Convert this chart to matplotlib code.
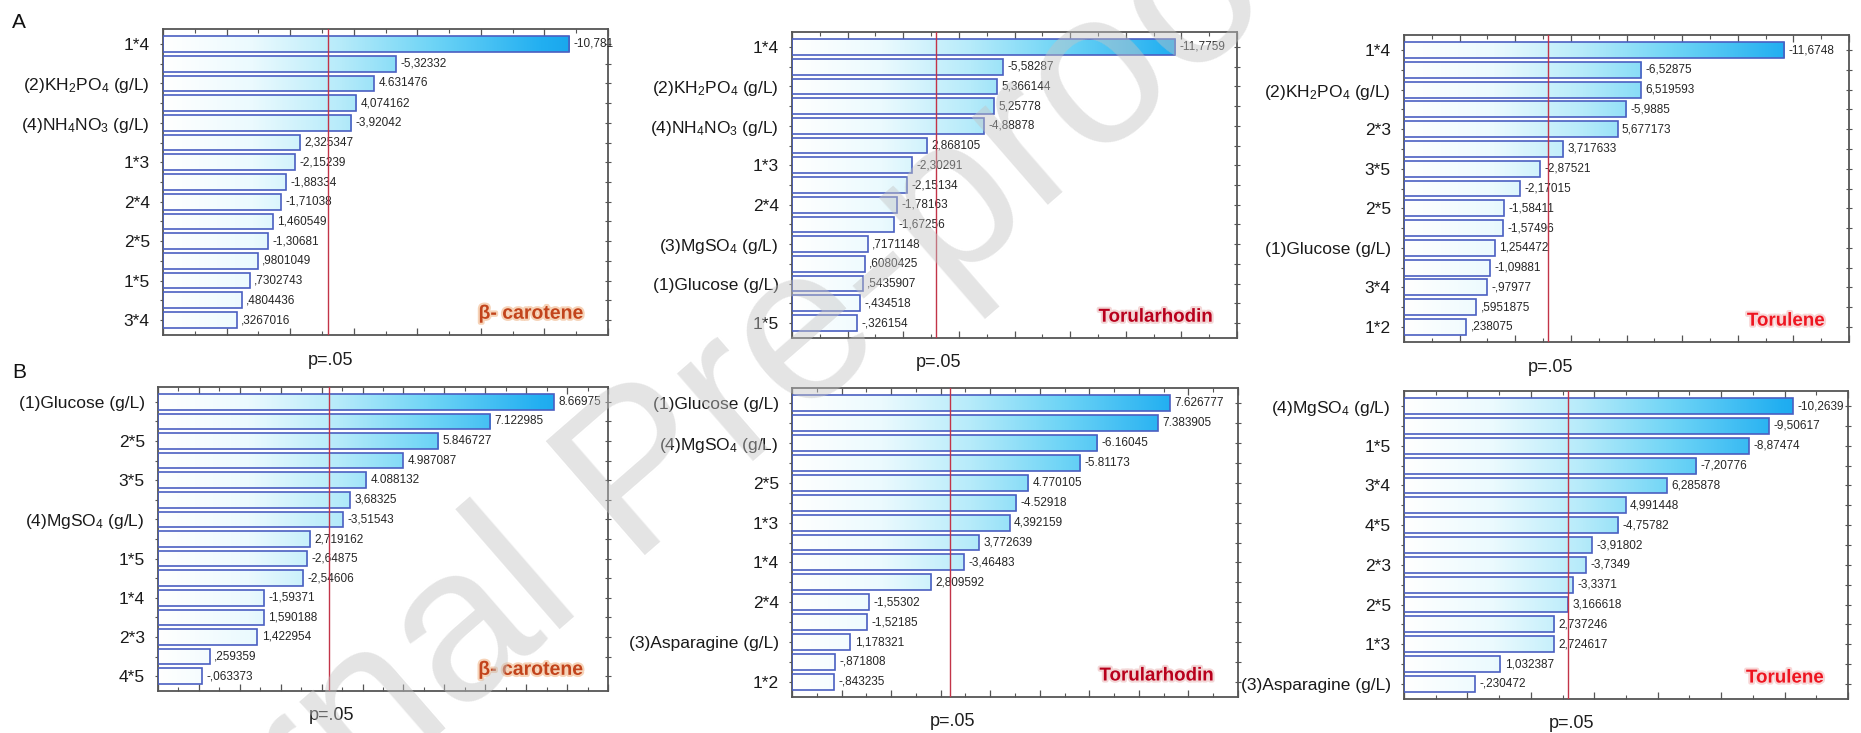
#!/usr/bin/env python3
"""Pareto charts of standardized effects (A: first design, B: second design)."""
import numpy as np
import matplotlib
matplotlib.use("Agg")
import matplotlib.pyplot as plt
from matplotlib import rcParams, font_manager
from matplotlib.colors import LinearSegmentedColormap
from matplotlib.ticker import MultipleLocator
import matplotlib.patheffects as pe

rcParams["font.family"] = ["Liberation Sans", "DejaVu Sans"]
rcParams["mathtext.fontset"] = "custom"
rcParams["mathtext.rm"] = "Liberation Sans"
rcParams["mathtext.it"] = "Liberation Sans:italic"
rcParams["mathtext.bf"] = "Liberation Sans:bold"
rcParams["mathtext.default"] = "regular"

names = {f.name for f in font_manager.fontManager.ttflist}
narrow = "Liberation Sans Narrow" if "Liberation Sans Narrow" in names else "Liberation Sans"
val_size = 10 if narrow == "Liberation Sans Narrow" else 8.5

KH = "(2)KH$_2$PO$_4$ (g/L)"
NH = "(4)NH$_4$NO$_3$ (g/L)"
MG3 = "(3)MgSO$_4$ (g/L)"
MG4 = "(4)MgSO$_4$ (g/L)"
GLU = "(1)Glucose (g/L)"
ASP = "(3)Asparagine (g/L)"

# ---- data (standardized effects, as printed) ----
a1_labels = ["1*4", "", KH, "", NH, "", "1*3", "", "2*4", "", "2*5", "", "1*5", "", "3*4"]
a1_effects = ["-10,781", "-5,32332", "4.631476", "4,074162", "-3,92042", "2,325347", "-2,15239",
              "-1,88334", "-1,71038", "1,460549", "-1,30681", ",9801049", ",7302743", ",4804436", ",3267016"]

a2_labels = ["1*4", "", KH, "", NH, "", "1*3", "", "2*4", "", MG3, "", GLU, "", "1*5"]
a2_effects = ["-11,7759", "-5,58287", "5,366144", "5,25778", "-4,88878", "2,868105", "-2,30291",
              "-2,15134", "-1,78163", "-1,67256", ",7171148", ",6080425", ",5435907", "-,434518", "-,326154"]

a3_labels = ["1*4", "", KH, "", "2*3", "", "3*5", "", "2*5", "", GLU, "", "3*4", "", "1*2"]
a3_effects = ["-11,6748", "-6,52875", "6,519593", "-5,9885", "5,677173", "3,717633", "-2,87521",
              "-2,17015", "-1,58411", "-1,57496", "1,254472", "-1,09881", "-,97977", ",5951875", ",238075"]

b1_labels = [GLU, "", "2*5", "", "3*5", "", MG4, "", "1*5", "", "1*4", "", "2*3", "", "4*5"]
b1_effects = ["8.66975", "7.122985", "5.846727", "4.987087", "4.088132", "3,68325", "-3,51543",
              "2,719162", "-2,64875", "-2,54606", "-1,59371", "1,590188", "1,422954", ",259359", "-,063373"]

b2_labels = [GLU, "", MG4, "", "2*5", "", "1*3", "", "1*4", "", "2*4", "", ASP, "", "1*2"]
b2_effects = ["7.626777", "7.383905", "-6.16045", "-5.81173", "4.770105", "-4.52918", "4,392159",
              "3,772639", "-3,46483", "2,809592", "-1,55302", "-1,52185", "1,178321", "-,871808", "-,843235"]

b3_labels = [MG4, "", "1*5", "", "3*4", "", "4*5", "", "2*3", "", "2*5", "", "1*3", "", ASP]
b3_effects = ["-10,2639", "-9,50617", "-8,87474", "-7,20776", "6,285878", "4,991448", "-4,75782",
              "-3,91802", "-3,7349", "-3,3371", "3,166618", "2,737246", "2,724617", "1,032387", "-,230472"]

t_crit = 3.182  # p=.05 line
compounds = ["β- carotene", "Torularhodin", "Torulene"]
comp_colors = {"β- carotene": "#c2441c", "Torularhodin": "#b8001c", "Torulene": "#ee1520"}
comp_glow = {"β- carotene": "#f6d3b8", "Torularhodin": "#f3d6d6", "Torulene": "#f8d6d6"}

W, H = 1861, 733
# (labels, effects, xlim, major step, compound, box px: left, right, top, bottom)
panels = [
    (a1_labels, a1_effects, (-2, 12), 2, compounds[0], (163, 608, 29, 335)),
    (a2_labels, a2_effects, (-2, 14), 2, compounds[1], (792, 1237, 32, 338)),
    (a3_labels, a3_effects, (-2, 14), 2, compounds[2], (1404, 1849, 35, 342)),
    (b1_labels, b1_effects, (-1, 10), 1, compounds[0], (158, 608, 387, 691)),
    (b2_labels, b2_effects, (0, 9), 1, compounds[1], (792, 1238, 388, 697)),
    (b3_labels, b3_effects, (-2, 12), 2, compounds[2], (1404, 1848, 391, 699)),
]

cmap = LinearSegmentedColormap.from_list(
    "stat", [(0.0, "#ffffff"), (0.2, "#ebfafe"), (0.4, "#b6ebfa"),
             (0.6, "#70d5f6"), (0.85, "#22aff1"), (1.0, "#0c9ce8")])
grad = np.linspace(0, 1, 512).reshape(1, -1)

fig = plt.figure(figsize=(W / 100, H / 100), dpi=100)

for labels, effects, xlim, step, comp, (l, r, t, b) in panels:
    ax = fig.add_axes([l / W, 1 - b / H, (r - l) / W, (b - t) / H])
    vals = np.array([float(s.replace(",", ".")) for s in effects])
    y = np.arange(len(vals))
    ylim = (len(vals) - 1 + 0.76, -0.76)
    bars = ax.barh(y, np.abs(vals) - xlim[0], left=xlim[0], height=0.8,
                   facecolor="none", edgecolor="#4a5fc1", lw=1.2, zorder=3)
    for p in bars.patches:
        im = ax.imshow(grad, cmap=cmap, aspect="auto", interpolation="bilinear",
                       extent=(xlim[0], xlim[1], ylim[0], ylim[1]), zorder=2)
        im.set_clip_path(p)
    for yi, v, s in zip(y, vals, effects):
        ax.text(abs(v) + 0.01 * (xlim[1] - xlim[0]), yi, s, va="center", ha="left",
                fontsize=val_size, family=[narrow, "DejaVu Sans"], color="#262626", zorder=4)

    ax.axvline(t_crit, color="#c23448", lw=1.0, zorder=4)
    ax.annotate("p=.05", (t_crit, 0), xycoords=("data", "axes fraction"),
                xytext=(2, -18), textcoords="offset points", ha="center", va="center",
                fontsize=13, color="#1e1e1e")

    ax.text(0.945, 0.068, comp, transform=ax.transAxes, ha="right", va="center",
            fontsize=14 if comp.startswith("β") else 13.5, fontweight="bold",
            color=comp_colors[comp], zorder=5,
            path_effects=[pe.withStroke(linewidth=3, foreground=comp_glow[comp])])

    ax.set_xlim(xlim)
    ax.set_ylim(ylim)
    ax.set_yticks(y)
    ax.set_yticklabels(labels, fontsize=12.5, color="#1a1a1a")
    ax.xaxis.set_major_locator(MultipleLocator(step))
    ax.xaxis.set_minor_locator(MultipleLocator(step / 2))
    ax.tick_params(axis="x", which="both", direction="in", top=True, bottom=True,
                   labelbottom=False, color="#555555")
    ax.tick_params(axis="x", which="major", length=5, width=0.9)
    ax.tick_params(axis="x", which="minor", length=3, width=0.8)
    ax.tick_params(axis="y", direction="inout", left=True, right=True, length=5,
                   width=0.8, color="#555555", pad=7)
    for sp in ax.spines.values():
        sp.set_color("#555555")
        sp.set_linewidth(1.3)

fig.text(19 / W, 1 - 22 / H, "A", fontsize=15, ha="center", va="center", color="#111111")
fig.text(19 / W, 1 - 372 / H, "B", fontsize=15, ha="center", va="center", color="#111111")

# watermark
fig.text(645 / W, 1 - 480 / H, "Journal Pre-proof", rotation=41, rotation_mode="anchor",
         ha="center", va="center", fontsize=158, color="#c4c4c4", alpha=0.45, zorder=10)

fig.savefig("out.png", dpi=100)
